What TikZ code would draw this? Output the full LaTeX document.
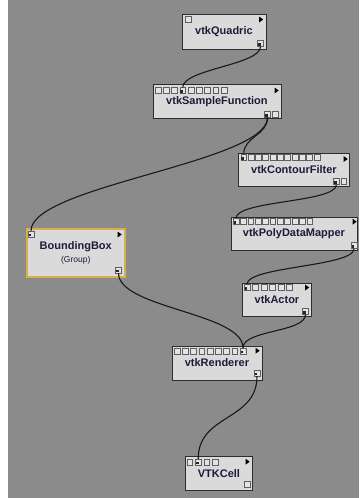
\documentclass[tikz,border=0pt]{standalone}
\usepackage{fontspec}
\setmainfont{Liberation Sans}
\definecolor{bg}{RGB}{139,139,139}
\definecolor{boxfill}{RGB}{218,218,218}
\definecolor{boxline}{RGB}{45,45,45}
\definecolor{portline}{RGB}{95,95,95}
\definecolor{portfill}{RGB}{228,228,228}
\definecolor{txt}{RGB}{28,28,58}
\definecolor{gold}{RGB}{214,176,72}
\newcommand{\cmark}[1]{\fill[black!85] ([shift={(0.9pt,0.9pt)}]#1.south west) rectangle ++(2.6pt,2.6pt);}
\newcommand{\tria}[2]{\fill[black] (#1-2,#2-3) -- (#1+2.2,#2) -- (#1-2,#2+3) -- cycle;}
\begin{document}
\begin{tikzpicture}[x=1pt,y=-1pt,
  box/.style={draw=boxline, fill=boxfill, line width=0.9pt, anchor=north west, inner sep=0pt, font=\fontsize{11}{12}\selectfont\bfseries, text=txt},
  port/.style={draw=portline, fill=portfill, line width=0.6pt, minimum size=5.8pt, inner sep=0pt},
  wire/.style={draw=black!90, line width=1.1pt}
]
\useasboundingbox (0,0) rectangle (359,498);
\fill[white] (0,0) rectangle (359,498);
\fill[bg] (8,0) rectangle (359,498);

% boxes
\node[box, minimum width=84pt, minimum height=34.5pt] (quad) at (181.5,14) {\raisebox{-2pt}{vtkQuadric}};
\node[box, minimum width=128pt, minimum height=34pt] (sf) at (152.5,84) {\raisebox{-2pt}{vtkSampleFunction}};
\node[box, minimum width=111pt, minimum height=33pt] (cf) at (238,153) {\raisebox{-2pt}{vtkContourFilter}};
\node[box, minimum width=126pt, minimum height=33pt] (pdm) at (230.5,217) {\raisebox{-2pt}{vtkPolyDataMapper}};
\node[box, minimum width=69pt, minimum height=33.5pt] (act) at (242,282.5) {\raisebox{-2pt}{vtkActor}};
\node[box, draw=gold, line width=2pt, minimum width=98.5pt, minimum height=47.5pt, align=center] (bb) at (25.5,228) {BoundingBox\\[1pt]{\fontsize{8.5}{10}\selectfont\mdseries (Group)}};
\node[box, minimum width=90pt, minimum height=34pt] (ren) at (171.5,345.5) {\raisebox{-2pt}{vtkRenderer}};
\node[box, minimum width=67pt, minimum height=34pt] (cell) at (185,456) {\raisebox{-2pt}{VTKCell}};

% ports
\node[port] (quad-i1) at (188,19.5) {};
\node[port] (quad-o1) at (260.5,43.5) {};
\foreach \i in {1,...,9} \node[port] (sf-i\i) at ({158+(\i-1)*8.25},90.5) {};
\node[port] (sf-o1) at (267.5,114.3) {};
\node[port] (sf-o2) at (275.3,114.3) {};
\foreach \i in {1,...,11} \node[port] (cf-i\i) at ({243.7+(\i-1)*7.33},157.5) {};
\node[port] (cf-o1) at (336.3,181.5) {};
\node[port] (cf-o2) at (343.8,181.5) {};
\foreach \i in {1,...,11} \node[port] (pdm-i\i) at ({236+(\i-1)*7.37},221.5) {};
\node[port] (pdm-o1) at (354,245.5) {};
\foreach \i in {1,...,6} \node[port] (act-i\i) at ({247+(\i-1)*8.5},287.5) {};
\node[port] (act-o1) at (305.5,311.3) {};
\node[port] (bb-i1) at (31,234) {};
\node[port] (bb-o1) at (118.5,270) {};
\foreach \i in {1,...,9} \node[port] (ren-i\i) at ({177+(\i-1)*8.25},351) {};
\node[port] (ren-o1) at (257,373) {};
\foreach \i in {1,...,4} \node[port] (cell-i\i) at ({189.7+(\i-1)*8.5},462) {};
\node[port] (cell-o1) at (247,484.5) {};

% connected port marks
\cmark{quad-o1}
\cmark{sf-i4}
\cmark{sf-o1}
\cmark{cf-i1}
\cmark{cf-o1}
\cmark{pdm-i1}
\cmark{pdm-o1}
\cmark{act-i1}
\cmark{act-o1}
\cmark{bb-i1}
\cmark{bb-o1}
\cmark{ren-i9}
\cmark{ren-o1}
\cmark{cell-i2}

% run triangles
\tria{261}{19.5}
\tria{276.5}{90.5}
\tria{345.5}{159}
\tria{354.5}{221.7}
\tria{307}{287.5}
\tria{119.5}{234.5}
\tria{257.5}{350.7}
\tria{247.5}{461.7}

% wires
\draw[wire] (quad-o1.south) .. controls +(0,18) and +(0,-18) .. (sf-i4.north);
\draw[wire] (sf-o1.south) .. controls +(0,18) and +(0,-18) .. (cf-i1.north);
\draw[wire] (sf-o1.south) .. controls +(0,45) and +(0,-45) .. (bb-i1.north);
\draw[wire] (cf-o1.south) .. controls +(0,18) and +(0,-18) .. (pdm-i1.north);
\draw[wire] (pdm-o1.south) .. controls +(0,18) and +(0,-18) .. (act-i1.north);
\draw[wire] (act-o1.south) .. controls +(0,18) and +(0,-18) .. (ren-i9.north);
\draw[wire] (bb-o1.south) .. controls +(0,35) and +(0,-35) .. (ren-i9.north);
\draw[wire] (ren-o1.south) .. controls +(0,45) and +(0,-45) .. (cell-i2.north);
\end{tikzpicture}
\end{document}
